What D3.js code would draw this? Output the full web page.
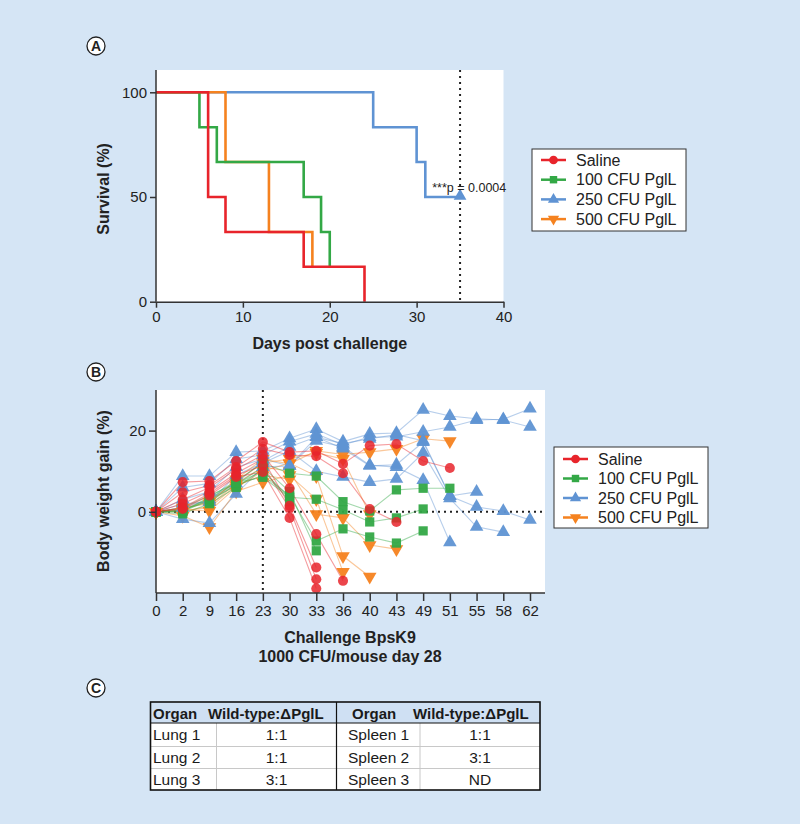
<!DOCTYPE html>
<html><head><meta charset="utf-8">
<script src="https://cdn.jsdelivr.net/npm/d3@7"></script>
<style>
html,body{margin:0;padding:0;background:#d5e5f5;}
svg{display:block;font-family:"Liberation Sans",Arial,Helvetica,sans-serif;}
</style></head>
<body>
<svg id="fig" width="800" height="824"></svg>
<script>
// ---------- DATA ----------
const groupNames = ["Saline","100 CFU PglL","250 CFU PglL","500 CFU PglL"];
const groupColors = ["#e8242b","#33a846","#5f93d3","#f5821f"];
const groupSymbols = ["circle","square","triangle","triangleDown"];

// Panel A: Kaplan-Meier steps [day, survival %]
const kmSaline = [[0,100],[6,50],[8,33.3],[17,16.7],[24,0]];
const km100 = [[0,100],[5,83.3],[7,66.7],[17,50],[19,33.3],[20,16.7]];
const km250 = [[0,100],[25,83.3],[30,66.7],[31,50],[35,50]];
const km500 = [[0,100],[8,66.7],[13,33.3],[18,16.7]];
const survXTicks = [0,10,20,30,40];
const survYTicks = [0,50,100];
const pLabel = "***p = 0.0004";

// Panel B: body weight gain (%) per mouse at each day
const weightDays = ["0","2","9","16","23","30","33","36","40","43","49","51","55","58","62"];
const salineMice = [
  [0,7.3,7.6,12.5,17.2,14.7,15,11.8,16.3,16.7,12.5,10.8],
  [0,4.8,6.5,11,15.5,14,13.7,9.5,0.7,-2.5],
  [0,3,6,10.5,14,5.8,-5.5,-17],
  [0,2,5,9.5,13,1.5,-13.7],
  [0,1,4.5,9,11.4,0.9,-16.6],
  [0,0.7,4,8.6,9.8,-1.5,-18.9]
];
const cfu100Mice = [
  [0,0.2,3.6,7.6,12,9.5,8.8,2.5,0.2,5.4,5.8,5.8],
  [0,1,4,7,10,3.6,3.1,0.5,-2.5,-1.5,0.7],
  [0,0,3,6.4,9,4,-7.2,-4.2,-6.2,-7.7,-4.7],
  [0,0.5,2.5,6.8,11,5,-9.6],
  [0,-0.5,2,6,10.5,2.5],
  [0,0.3,3.2,7.2,8.5,3.6]
];
const cfu250Mice = [
  [0,8.8,8.8,14.7,15,18.1,20.4,17.3,19.2,19.4,25.1,23.6,22.9,22.6,20.9],
  [0,6,7,13,14,17.3,19.2,16.5,18.4,18.5,19.7,20.9,22.6,22.8,25.4],
  [0,3,5,11,13,11.3,18.4,15.6,11.3,11.6,17.2,3.9,4.9],
  [0,2,2.4,9,12,15,10,8.6,7.3,8.1,14.5,3.3,-3.7,-5],
  [0,-1.8,-2.8,4.4,11,11.3,17.5,16,11.5,11,7.8,-7.5],
  [0,1,3,7,12.5,16,18.4,16.8,18,19,17.5,3.9,1.2,0.2,-2]
];
const cfu500Mice = [
  [0,1,2,8,13,11.8,15,14.1,14.7,15.5,18,17.4],
  [0,0.5,0.2,6,10,12,8.8,-10.9,-16],
  [0,-1,-3.8,5,7.3,9,3.1,-14.8],
  [0,0,1.5,7,11,10,-0.6,-1.5,-8.2,-9.2],
  [0,0.8,2.5,7.5,12,13,14.5,13,-0.6],
  [0,0.3,1,6.5,9,8]
];
const weightYTicks = [0,20];
const challengeDay = "23";

// Panel C table
const tableHeader = ["Organ","Wild-type:ΔPglL","Organ","Wild-type:ΔPglL"];
const tableOrgansL = ["Lung 1","Lung 2","Lung 3"];
const tableRatiosL = ["1:1","1:1","3:1"];
const tableOrgansR = ["Spleen 1","Spleen 2","Spleen 3"];
const tableRatiosR = ["1:1","3:1","ND"];

// ---------- DRAW ----------
const svg = d3.select("#fig");
const axisColor = "#333";

function symbolPath(kind, size){
  if(kind==="circle") return d3.symbol(d3.symbolCircle, size)();
  if(kind==="square") return d3.symbol(d3.symbolSquare, size)();
  return d3.symbol(d3.symbolTriangle, size)();
}
function drawSymbol(g, kind, x, y, color, size, opacity){
  g.append("path").attr("d", symbolPath(kind,size))
    .attr("transform", `translate(${x},${y})` + (kind==="triangleDown" ? " rotate(180)" : ""))
    .attr("fill", color).attr("fill-opacity", opacity);
}
function panelLabel(letter, x, y){
  svg.append("circle").attr("cx",x).attr("cy",y).attr("r",9)
    .attr("fill","#fff").attr("stroke","#222").attr("stroke-width",1.3);
  svg.append("text").attr("x",x).attr("y",y+5).attr("text-anchor","middle")
    .attr("font-size",14).attr("font-weight","bold").attr("fill","#222").text(letter);
}
function legend(x, y, w, h, rowY0, rowStep){
  const g = svg.append("g");
  g.append("rect").attr("x",x).attr("y",y).attr("width",w).attr("height",h)
    .attr("fill","#fff").attr("stroke","#333").attr("stroke-width",1);
  groupNames.forEach((n,i)=>{
    const yy = rowY0 + i*rowStep;
    g.append("line").attr("x1",x+9).attr("x2",x+34).attr("y1",yy).attr("y2",yy)
      .attr("stroke",groupColors[i]).attr("stroke-width",2.5);
    drawSymbol(g, groupSymbols[i], x+21.5, yy, groupColors[i], groupSymbols[i]==="circle"?60:55, 1);
    g.append("text").attr("x",x+44).attr("y",yy+5.5).attr("font-size",16).attr("fill","#222").text(n);
  });
}

// ----- Panel A -----
panelLabel("A", 96, 46);
const xA = d3.scaleLinear().domain([0,40]).range([156,503.5]);
const yA = d3.scaleLinear().domain([0,100]).range([301.7,92.3]);
const topA = 70;
svg.append("rect").attr("x",xA(0)).attr("y",topA).attr("width",xA(40)-xA(0)).attr("height",yA(0)-topA).attr("fill","#fff");
// dotted line at day 35
svg.append("line").attr("x1",xA(35)).attr("x2",xA(35)).attr("y1",topA).attr("y2",yA(0))
  .attr("stroke","#222").attr("stroke-width",2).attr("stroke-dasharray","2,4");
const kmLine = d3.line().x(d=>xA(d[0])).y(d=>yA(d[1])).curve(d3.curveStepAfter);
const kmSets = [[km250,2],[km500,3],[km100,1],[kmSaline,0]];
kmSets.forEach(([data,gi])=>{
  svg.append("path").attr("d",kmLine(data)).attr("fill","none")
    .attr("stroke",groupColors[gi]).attr("stroke-width",2.6);
});
drawSymbol(svg, "triangle", xA(35), yA(50)-1, groupColors[2], 70, 1);
svg.append("text").attr("x",xA(31.8)).attr("y",yA(50)-5).attr("font-size",12.5).attr("fill","#222").text(pLabel);
// axes
const axA_x = svg.append("g").attr("transform",`translate(0,${yA(0)})`)
  .call(d3.axisBottom(xA).tickValues(survXTicks).tickSize(6).tickSizeOuter(0).tickPadding(4));
const axA_y = svg.append("g").attr("transform",`translate(${xA(0)},0)`)
  .call(d3.axisLeft(yA).tickValues(survYTicks).tickSize(6).tickSizeOuter(0).tickPadding(3));
[axA_x,axA_y].forEach(a=>{
  a.selectAll("path,line").attr("stroke",axisColor).attr("stroke-width",1.5);
  a.selectAll("text").attr("font-size",15).attr("fill","#222").attr("font-family",null);
});
axA_y.select("path.domain").attr("d",`M0,${topA}V${yA(0)}`);
svg.append("text").attr("transform",`translate(109,${(topA+yA(0))/2+3}) rotate(-90)`)
  .attr("text-anchor","middle").attr("font-size",16).attr("font-weight","bold").attr("fill","#222").text("Survival (%)");
svg.append("text").attr("x",(xA(0)+xA(40))/2).attr("y",349).attr("text-anchor","middle")
  .attr("font-size",16).attr("font-weight","bold").attr("fill","#222").text("Days post challenge");
legend(532, 149, 154, 82, 160, 19.7);

// ----- Panel B -----
panelLabel("B", 96, 372);
const xB = d3.scalePoint().domain(weightDays).range([156,530]);
const yB = d3.scaleLinear().domain([-20,30]).range([593,390]);
const rightB = 545;
svg.append("rect").attr("x",156).attr("y",390).attr("width",rightB-156).attr("height",593-390).attr("fill","#fff");
// reference dotted lines
svg.append("line").attr("x1",156).attr("x2",rightB).attr("y1",yB(0)).attr("y2",yB(0))
  .attr("stroke","#222").attr("stroke-width",2).attr("stroke-dasharray","2,4");
svg.append("line").attr("x1",xB(challengeDay)).attr("x2",xB(challengeDay)).attr("y1",390).attr("y2",593)
  .attr("stroke","#222").attr("stroke-width",2).attr("stroke-dasharray","2,4");
const groups = [cfu250Mice, cfu500Mice, cfu100Mice, salineMice];
const groupIdx = [2,3,1,0];
const wLine = d3.line().x((d,i)=>xB(weightDays[i])).y(d=>yB(d));
groups.forEach((mice,k)=>{
  const gi = groupIdx[k];
  mice.forEach(m=>{
    svg.append("path").attr("d",wLine(m)).attr("fill","none")
      .attr("stroke",groupColors[gi]).attr("stroke-width",1.1).attr("stroke-opacity",0.45);
  });
});
const markerOrder = [3,2,1,0];
const groupData = [salineMice,cfu100Mice,cfu250Mice,cfu500Mice];
markerOrder.forEach(gi=>{
  const g = svg.append("g");
  groupData[gi].forEach(m=>{
    m.forEach((v,i)=>{
      const kind = groupSymbols[gi];
      const size = kind==="circle"?80:(kind==="square"?85:80);
      drawSymbol(g, kind, xB(weightDays[i]), yB(v), groupColors[gi], size, gi===0?0.85:0.95);
    });
  });
});
const axB_x = svg.append("g").attr("transform",`translate(0,593)`)
  .call(d3.axisBottom(xB).tickSize(8).tickSizeOuter(0).tickPadding(4));
axB_x.select("path.domain").attr("d",`M0,0H${rightB-156}`).attr("transform","translate(156,0)");
const axB_y = svg.append("g").attr("transform",`translate(156,0)`)
  .call(d3.axisLeft(yB).tickValues(weightYTicks).tickSize(7).tickSizeOuter(0).tickPadding(3));
axB_y.select("path.domain").attr("d",`M0,390V593`);
[axB_x,axB_y].forEach(a=>{
  a.selectAll("path,line").attr("stroke",axisColor).attr("stroke-width",1.5);
  a.selectAll("text").attr("font-size",15).attr("fill","#222").attr("font-family",null);
});
svg.append("text").attr("transform",`translate(109,491) rotate(-90)`)
  .attr("text-anchor","middle").attr("font-size",16).attr("font-weight","bold").attr("fill","#222").text("Body weight gain (%)");
svg.append("text").attr("x",350).attr("y",643).attr("text-anchor","middle")
  .attr("font-size",16).attr("font-weight","bold").attr("fill","#222").text("Challenge BpsK9");
svg.append("text").attr("x",350).attr("y",662).attr("text-anchor","middle")
  .attr("font-size",16).attr("font-weight","bold").attr("fill","#222").text("1000 CFU/mouse day 28");
legend(554, 447, 154, 81, 459, 19.5);

// ----- Panel C -----
panelLabel("C", 96, 688);
const tX = [150.5, 216.5, 336.5, 420, 540];
const tY = [702, 723, 746.5, 768.5, 790];
const tg = svg.append("g");
tg.append("rect").attr("x",tX[0]).attr("y",tY[0]).attr("width",tX[4]-tX[0]).attr("height",tY[1]-tY[0]).attr("fill","#cfe0f3");
tg.append("rect").attr("x",tX[0]).attr("y",tY[1]).attr("width",tX[4]-tX[0]).attr("height",tY[4]-tY[1]).attr("fill","#fff");
// light inner lines
[tY[2],tY[3]].forEach(y=>tg.append("line").attr("x1",tX[0]).attr("x2",tX[4]).attr("y1",y).attr("y2",y).attr("stroke","#c8c8c8").attr("stroke-width",1));
[tX[1],tX[3]].forEach(x=>tg.append("line").attr("x1",x).attr("x2",x).attr("y1",tY[1]).attr("y2",tY[4]).attr("stroke","#c8c8c8").attr("stroke-width",1));
tg.append("line").attr("x1",tX[0]).attr("x2",tX[4]).attr("y1",tY[1]).attr("y2",tY[1]).attr("stroke","#111").attr("stroke-width",1.2);
tg.append("line").attr("x1",tX[2]).attr("x2",tX[2]).attr("y1",tY[0]).attr("y2",tY[4]).attr("stroke","#111").attr("stroke-width",1.2);
tg.append("rect").attr("x",tX[0]).attr("y",tY[0]).attr("width",tX[4]-tX[0]).attr("height",tY[4]-tY[0])
  .attr("fill","none").attr("stroke","#111").attr("stroke-width",1.6);
// header
const hdrX = [153, 208, 352, 413];
tableHeader.forEach((h,i)=>{
  tg.append("text").attr("x",hdrX[i]).attr("y",tY[0]+16.5).attr("font-size",15).attr("font-weight","bold").attr("fill","#1a1a1a").text(h);
});
for(let r=0;r<3;r++){
  const yy = tY[r+1] + (tY[r+2]-tY[r+1])/2 + 5.5;
  tg.append("text").attr("x",153).attr("y",yy).attr("font-size",15.5).attr("fill","#1a1a1a").text(tableOrgansL[r]);
  tg.append("text").attr("x",(tX[1]+tX[2])/2).attr("y",yy).attr("text-anchor","middle").attr("font-size",15.5).attr("fill","#1a1a1a").text(tableRatiosL[r]);
  tg.append("text").attr("x",348).attr("y",yy).attr("font-size",15.5).attr("fill","#1a1a1a").text(tableOrgansR[r]);
  tg.append("text").attr("x",(tX[3]+tX[4])/2).attr("y",yy).attr("text-anchor","middle").attr("font-size",15.5).attr("fill","#1a1a1a").text(tableRatiosR[r]);
}
</script>
</body></html>
